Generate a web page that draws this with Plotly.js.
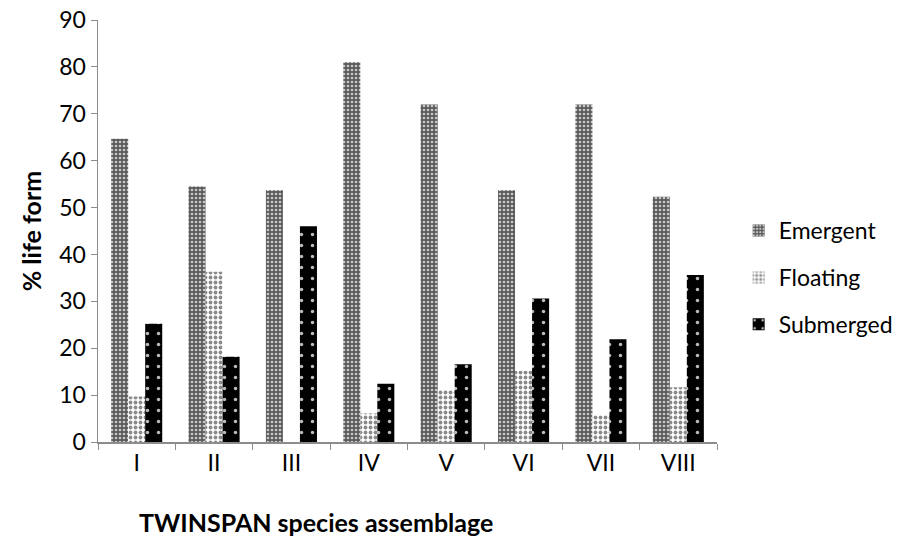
<!DOCTYPE html>
<html>
<head>
<meta charset="utf-8">
<script src="https://cdn.plot.ly/plotly-3.0.1.min.js"></script>
<style>html,body{margin:0;padding:0;background:#fff;}#chart{width:910px;height:537px;}</style>
</head>
<body>
<div id="chart"></div>
<script>
const categories = ["I", "II", "III", "IV", "V", "VI", "VII", "VIII"];
const emergent = [64.7, 54.5, 53.7, 81.0, 72.0, 53.7, 72.0, 52.3];
const floating = [9.7, 36.3, 0, 6.1, 11.1, 15.2, 5.7, 11.7];
const submerged = [25.2, 18.2, 46.0, 12.4, 16.6, 30.6, 21.9, 35.6];
const seriesNames = ["Emergent", "Floating", "Submerged"];
const xTitle = "TWINSPAN species assemblage";
const yTitle = "% life form";

const FONT = "Lato, 'Open Sans', sans-serif";

const traces = [
  {
    type: "bar", name: seriesNames[0], x: categories, y: emergent, legendgroup: "a",
    marker: {color: "#7a7a7a", line: {width: 0},
      pattern: {shape: ".", fillmode: "replace", bgcolor: "#5a5a5a", fgcolor: "#c8c8c8", size: 4, solidity: 0.35}}
  },
  {
    type: "bar", name: seriesNames[1], x: categories, y: floating, legendgroup: "b",
    marker: {color: "#dddddd", line: {width: 0},
      pattern: {shape: ".", fillmode: "replace", bgcolor: "#ffffff", fgcolor: "#8a8a8a", size: 5, solidity: 0.45}}
  },
  {
    type: "bar", name: seriesNames[2], x: categories, y: submerged, legendgroup: "c",
    marker: {color: "#000000", line: {width: 0},
      pattern: {shape: ".", fillmode: "replace", bgcolor: "#000000", fgcolor: "#bbbbbb", size: 11, solidity: 0.08}}
  }
];

const layout = {
  width: 910, height: 537,
  margin: {l: 98, r: 190, t: 20, b: 95},
  paper_bgcolor: "#fff", plot_bgcolor: "#fff",
  font: {family: FONT, color: "#000", size: 23},
  barmode: "group", bargap: 0.34, bargroupgap: 0,
  showlegend: true,
  legend: {x: 1.035, y: 0.552, xanchor: "left", yanchor: "top",
    font: {family: FONT, size: 23, color: "#000"}, tracegroupgap: 14, itemwidth: 30},
  xaxis: {
    type: "category",
    showline: true, linecolor: "#8c8c8c", linewidth: 1.5,
    ticks: "outside", tickson: "boundaries", ticklen: 6, tickcolor: "#8c8c8c",
    showgrid: false, zeroline: false,
    tickfont: {family: FONT, size: 23}
  },
  yaxis: {
    range: [0, 90], dtick: 10,
    showline: true, linecolor: "#8c8c8c", linewidth: 1.5,
    ticks: "outside", ticklen: 6, tickcolor: "#8c8c8c",
    showgrid: false, zeroline: false,
    tickfont: {family: FONT, size: 23},
    title: {text: "<b>" + yTitle + "</b>", font: {family: FONT, size: 25}, standoff: 10}
  },
  annotations: [{
    text: "<b>" + xTitle + "</b>", xref: "paper", yref: "paper",
    x: 0.352, y: -0.19, xanchor: "center", yanchor: "middle",
    showarrow: false, font: {family: FONT, size: 25, color: "#000"}
  }]
};

Plotly.newPlot("chart", traces, layout, {displayModeBar: false, staticPlot: true});
</script>
</body>
</html>
